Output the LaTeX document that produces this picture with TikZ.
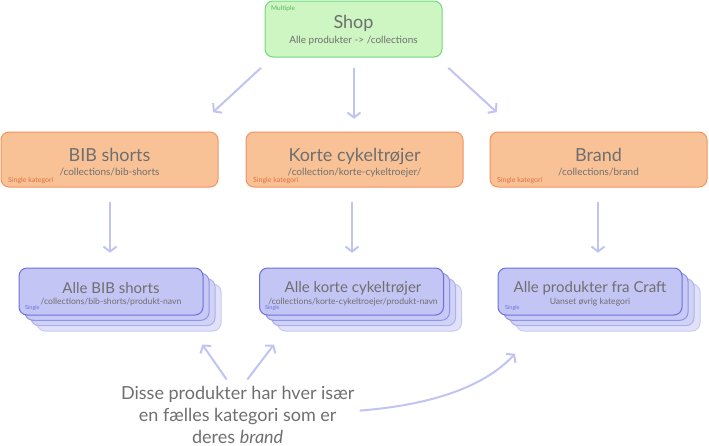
\documentclass[tikz,border=0pt]{standalone}
\usepackage{fontspec}
\setmainfont{Lato}
\usetikzlibrary{arrows.meta}
\definecolor{txt}{HTML}{6F6F6F}
\definecolor{gfill}{HTML}{CDF6C3}
\definecolor{gline}{HTML}{6FD97C}
\definecolor{gtag}{HTML}{58B85F}
\definecolor{ofill}{HTML}{F9C296}
\definecolor{oline}{HTML}{F4925F}
\definecolor{otag}{HTML}{E0703C}
\definecolor{bfill}{HTML}{C3C5F4}
\definecolor{bline}{HTML}{6B70E0}
\definecolor{arrc}{HTML}{C1C4F3}
\begin{document}
\begin{tikzpicture}[x=1pt,y=-1pt,
  box/.style={draw, line width=1pt, rounded corners=8pt, inner sep=0pt},
  greenbox/.style={box, fill=gfill, draw=gline, minimum width=177pt, minimum height=56pt},
  orangebox/.style={box, fill=ofill, draw=oline, minimum width=217pt, minimum height=55pt},
  bluebox/.style={box, fill=bfill, draw=bline, minimum width=184pt, minimum height=47pt},
  layerA/.style={box, fill=bfill!92!white, draw=bline!75!white, minimum width=184pt, minimum height=47pt},
  layerB/.style={box, fill=bfill!78!white, draw=bline!55!white, minimum width=184pt, minimum height=47pt},
  layerC/.style={box, fill=bfill!50!white, draw=bline!38!white, minimum width=184pt, minimum height=47pt},
  title/.style={font=\fontsize{18}{20}\selectfont, text=txt, inner sep=0pt, anchor=base},
  btitle/.style={font=\fontsize{15}{17}\selectfont, text=txt, inner sep=0pt, anchor=base},
  sub/.style={font=\fontsize{10}{12}\selectfont, text=txt, inner sep=0pt, anchor=base},
  bsub/.style={font=\fontsize{8.6}{10}\selectfont, text=txt, inner sep=0pt, anchor=base},
  tag/.style={font=\fontsize{7}{8}\selectfont, inner sep=0pt, anchor=base west},
  btag/.style={font=\fontsize{5.5}{6}\selectfont, text=bline, inner sep=0pt, anchor=base west},
  note/.style={font=\fontsize{18}{22}\selectfont, text=txt, inner sep=0pt, anchor=base},
  arr/.style={draw=arrc, line width=2pt, -{Straight Barb[length=5pt,width=13pt]}}
]
\useasboundingbox (0,0) rectangle (709,445);

% Shop
\node[greenbox] (shop) at (353.5,29) {};
\node[title] (shopT) at (353.5,28.3) {Shop};
\node[sub] (shopS) at (353.5,43.3) {Alle produkter -> /collections};
\node[tag, text=gtag, font=\fontsize{6.5}{7}\selectfont] (shopM) at (271,10) {Multiple};

% Orange boxes
\node[orangebox] (bib) at (109.5,159.5) {};
\node[title] (bibT) at (109.5,161) {BIB shorts};
\node[sub] (bibS) at (109.5,175) {/collections/bib-shorts};
\node[tag, text=otag] (bibK) at (8,182) {Single kategori};

\node[orangebox] (korte) at (354.5,159.5) {};
\node[title] (korteT) at (354.5,161) {Korte cykeltrøjer};
\node[sub] (korteS) at (354.5,175) {/collection/korte-cykeltroejer/};
\node[tag, text=otag] (korteK) at (253,182) {Single kategori};

\node[orangebox] (brand) at (598.5,159.5) {};
\node[title] (brandT) at (598.5,161) {Brand};
\node[sub] (brandS) at (598.5,175) {/collections/brand};
\node[tag, text=otag] (brandK) at (497,182) {Single kategori};

% Blue stacks
\foreach \nm/\cx in {s1/111, s2/351.5, s3/590} {
  \node[layerC] (\nm c) at (\cx+18,291.5+16) {};
  \node[layerB] (\nm b) at (\cx+12,291.5+10.7) {};
  \node[layerA] (\nm a) at (\cx+6,291.5+5.3) {};
  \node[bluebox] (\nm) at (\cx,291.5) {};
}
\node[btitle] (s1T) at (111,293.3) {Alle BIB shorts};
\node[bsub] (s1S) at (111,304) {/collections/bib-shorts/produkt-navn};
\node[btag] (s1K) at (25,309) {Single};

\node[btitle] (s2T) at (353,292.5) {Alle korte cykeltrøjer};
\node[bsub] (s2S) at (353,304) {/collections/korte-cykeltroejer/produkt-navn};
\node[btag] (s2K) at (265,309) {Single};

\node[btitle] (s3T) at (590,292.5) {Alle produkter fra Craft};
\node[bsub] (s3S) at (590,304.3) {Uanset øvrig kategori};
\node[btag] (s3K) at (505,309) {Single};

% Note
\node[note] (note1) at (237.7,399) {Disse produkter har hver især};
\node[note] (note2) at (237.7,421.3) {en fælles kategori som er};
\node[note] (note3) at (237.7,443) {deres \textit{brand}};

% Arrows
\draw[arr] ([shift={(-92.5,10.3)}]shop.south) -- ([shift={(103.5,-19.3)}]bib.north);
\draw[arr] ([shift={(0.5,10.3)}]shop.south) -- ([shift={(-0.5,-12.7)}]korte.north);
\draw[arr] ([shift={(94.8,10.3)}]shop.south) -- ([shift={(-101.8,-19.3)}]brand.north);

\draw[arr] ([shift={(0.5,14)}]bib.south) -- ([shift={(-1,-14.7)}]s1.north);
\draw[arr] ([shift={(-2.5,14)}]korte.south) -- ([shift={(0.5,-14.7)}]s2.north);
\draw[arr] ([shift={(-0.5,14)}]brand.south) -- ([shift={(8,-14.7)}]s3.north);

\draw[arr] ([shift={(-11,-6)}]note1.north) -- ([shift={(73.3,13)}]s1c.south);
\draw[arr] ([shift={(9.6,-6)}]note1.north) -- ([shift={(-95.5,13)}]s2c.south);
\draw[arr] ([shift={(23,-10.7)}]note2.base east) .. controls +(75,-6) and +(-30,32) .. ([shift={(-93,22.3)}]s3c.south);
\end{tikzpicture}
\end{document}
